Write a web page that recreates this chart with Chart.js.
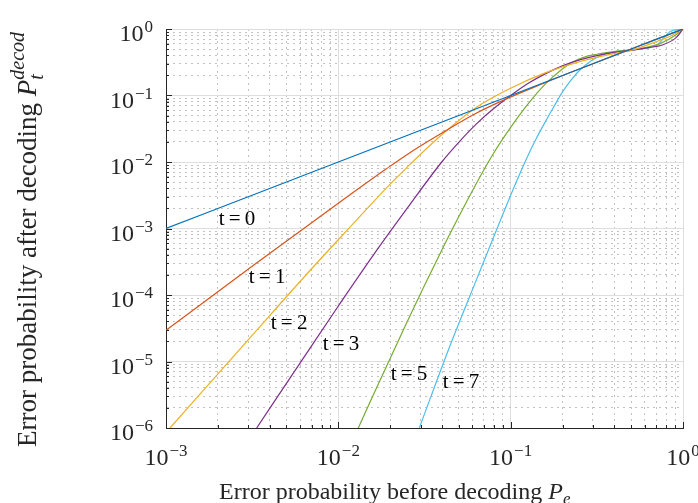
<!DOCTYPE html>
<html>
<head>
<meta charset="utf-8">
<script src="https://cdn.jsdelivr.net/npm/chart.js@4.4.1/dist/chart.umd.min.js"></script>
<style>
  html, body { margin: 0; padding: 0; background: #fff; }
  #wrap { width: 698px; height: 503px; position: relative; }
</style>
</head>
<body>
<div id="wrap"><canvas id="decodChart"></canvas></div>
<script>
// error probability before decoding (Pe) and after decoding (P)
const pe0 = [1e-3, 1e-2, 0.1, 0.5, 1];
const p0  = [1e-3, 1e-2, 0.1, 0.5, 1];

const pe1 = [1e-3, 3.16e-3, 1e-2, 1.9e-2, 2.5e-2, 3.9e-2, 6.3e-2, 8.7e-2, 0.148, 0.22, 0.5, 0.71, 1];
const p1  = [2.95e-5, 2.7e-4, 2.4e-3, 7.9e-3, 1.29e-2, 2.63e-2, 5.4e-2, 8.1e-2, 0.145, 0.22, 0.5, 0.71, 1];

const pe2 = [1.054e-3, 3.162e-3, 6.486e-3, 1.259e-2, 1.892e-2, 2.512e-2, 3.981e-2, 6.31e-2, 0.1, 0.1585, 0.2512, 0.3981, 0.5012, 0.6699, 0.871, 1];
const p2  = [1e-6, 2.47e-5, 2.0e-4, 1.288e-3, 4.02e-3, 8.39e-3, 2.57e-2, 6.61e-2, 0.1288, 0.2188, 0.3236, 0.4266, 0.4786, 0.6166, 0.8128, 1];

const pe3 = [3.357e-3, 6.31e-3, 1e-2, 1.585e-2, 2.512e-2, 3.981e-2, 5.012e-2, 6.31e-2, 7.943e-2, 0.1, 0.1259, 0.1585, 0.1995, 0.2512, 0.3162, 0.3981, 0.5012, 0.631, 0.7586, 0.912, 1];
const p3  = [1e-6, 1.156e-5, 6.84e-5, 3.88e-4, 2.02e-3, 1e-2, 1.995e-2, 3.715e-2, 6.31e-2, 0.1, 0.1514, 0.2113, 0.2786, 0.3428, 0.3981, 0.4446, 0.4786, 0.5248, 0.5754, 0.7413, 1];

const pe5 = [1.306e-2, 1.585e-2, 2.512e-2, 3.981e-2, 5.012e-2, 6.31e-2, 7.943e-2, 0.1, 0.1259, 0.1585, 0.1995, 0.2239, 0.2512, 0.2818, 0.3162, 0.3981, 0.5012, 0.7362, 0.9204, 1];
const p5  = [1e-6, 3.04e-6, 4.01e-5, 4.71e-4, 1.524e-3, 4.71e-3, 1.343e-2, 3.31e-2, 7.41e-2, 0.148, 0.251, 0.309, 0.355, 0.394, 0.417, 0.457, 0.484, 0.603, 0.832, 1];

const pe7 = [2.95e-2, 4.345e-2, 6.31e-2, 8.34e-2, 0.1, 0.1122, 0.1259, 0.1413, 0.1585, 0.1778, 0.1995, 0.2239, 0.2512, 0.2818, 0.3162, 0.3548, 0.3981, 0.5012, 0.703, 0.839, 1];
const p7  = [1e-6, 1.48e-5, 1.66e-4, 1e-3, 3.16e-3, 6.38e-3, 1.245e-2, 2.29e-2, 3.98e-2, 6.76e-2, 0.1122, 0.17, 0.24, 0.309, 0.372, 0.422, 0.452, 0.484, 0.569, 0.912, 1];

const curveNames  = ['t=0', 't=1', 't=2', 't=3', 't=5', 't=7'];
const curvePe     = [pe0, pe1, pe2, pe3, pe5, pe7];
const curveP      = [p0, p1, p2, p3, p5, p7];
const curveColors = ['#0072BD', '#D95319', '#EDB120', '#7E2F8E', '#77AC30', '#4DBEEE'];

// where each "t=.." label sits, in data units
const labelPe = [2.58e-3, 3.86e-3, 5.18e-3, 1.036e-2, 2.57e-2, 5.15e-2];
const labelP  = [1.39e-3, 1.83e-4, 3.79e-5, 1.8e-5, 6.38e-6, 4.83e-6];

const xExps = [-3, -2, -1, 0];
const yExps = [-6, -5, -4, -3, -2, -1, 0];

const SERIF = '"Liberation Serif", "DejaVu Serif", serif';

// 1..9 x 10^k between the two end decades
function logTicks(exps) {
  const out = [];
  for (let k = exps[0]; k < exps[exps.length - 1]; k++) {
    for (let m = 1; m < 10; m++) out.push({ value: m * Math.pow(10, k), major: m === 1 });
  }
  out.push({ value: Math.pow(10, exps[exps.length - 1]), major: true });
  return out;
}

function drawPow(ctx, x, y, exp, align) {
  const base = '10';
  const sup = exp === 0 ? '0' : '\u2212' + Math.abs(exp);
  ctx.font = '24px ' + SERIF;
  const wb = ctx.measureText(base).width;
  ctx.font = '17px ' + SERIF;
  const ws = ctx.measureText(sup).width;
  const w = wb + ws + 1;
  let left = x;
  if (align === 'center') left = x - w / 2;
  if (align === 'right') left = x - w;
  ctx.textAlign = 'left';
  ctx.textBaseline = 'alphabetic';
  ctx.font = '24px ' + SERIF;
  ctx.fillText(base, left, y);
  ctx.font = '17px ' + SERIF;
  ctx.fillText(sup, left + wb + 1, y - 9);
}

function drawParts(ctx, x, y, parts) {
  let cx = x;
  parts.forEach(p => {
    ctx.font = p.font;
    ctx.fillText(p.text, cx, y + (p.dy || 0));
    if (!p.stay) cx += ctx.measureText(p.text).width;
  });
}

const decorations = {
  id: 'decorations',
  afterDraw(chart) {
    const ctx = chart.ctx;
    const xs = chart.scales.x, ys = chart.scales.y;
    const area = chart.chartArea;
    ctx.save();

    // inward tick marks on the left and bottom axes
    ctx.strokeStyle = '#262626';
    ctx.lineWidth = 1;
    ctx.beginPath();
    logTicks(xExps).forEach(t => {
      const px = Math.round(xs.getPixelForValue(t.value)) + 0.5;
      const len = t.major ? 6 : 3;
      ctx.moveTo(px, area.bottom);
      ctx.lineTo(px, area.bottom - len);
    });
    logTicks(yExps).forEach(t => {
      const py = Math.round(ys.getPixelForValue(t.value)) + 0.5;
      const len = t.major ? 6 : 3;
      ctx.moveTo(area.left, py);
      ctx.lineTo(area.left + len, py);
    });
    ctx.stroke();

    // tick labels
    ctx.fillStyle = '#262626';
    xExps.forEach(e => drawPow(ctx, xs.getPixelForValue(Math.pow(10, e)), area.bottom + 37, e, 'center'));
    yExps.forEach(e => drawPow(ctx, area.left - 13, ys.getPixelForValue(Math.pow(10, e)) + 12, e, 'right'));

    // axis titles
    ctx.textAlign = 'left';
    ctx.textBaseline = 'alphabetic';
    drawParts(ctx, 219, 499, [
      { text: 'Error probability before decoding ', font: '24px ' + SERIF },
      { text: 'P', font: 'italic 24px ' + SERIF },
      { text: 'e', font: 'italic 17px ' + SERIF, dy: 5 }
    ]);
    ctx.save();
    ctx.translate(36, 447);
    ctx.rotate(-Math.PI / 2);
    drawParts(ctx, 0, 0, [
      { text: 'Error probability after decoding ', font: '27px ' + SERIF },
      { text: 'P', font: 'italic 27px ' + SERIF },
      { text: 't', font: 'italic 20px ' + SERIF, dy: 7, stay: true },
      { text: 'decod', font: 'italic 20px ' + SERIF, dy: -12 }
    ]);
    ctx.restore();

    // curve labels
    ctx.fillStyle = '#000';
    ctx.font = '21px ' + SERIF;
    ctx.textAlign = 'center';
    ctx.textBaseline = 'middle';
    curveNames.forEach((name, i) => {
      const label = name.replace('=', '\u2009=\u2009');
      ctx.fillText(label, xs.getPixelForValue(labelPe[i]), ys.getPixelForValue(labelP[i]));
    });
    ctx.restore();
  }
};

function axisOptions(min, max, exps) {
  return {
    type: 'logarithmic',
    min: min,
    max: max,
    afterBuildTicks: scale => { scale.ticks = logTicks(exps); },
    ticks: { display: false },
    grid: {
      drawTicks: false,
      lineWidth: 1,
      color: c => (c.tick && c.tick.major) ? '#dedede' : '#c2c2c2'
    },
    border: {
      display: true,
      color: '#262626',
      width: 1,
      dash: c => (c.tick && !c.tick.major) ? [2, 4] : []
    }
  };
}

new Chart(document.getElementById('decodChart'), {
  type: 'line',
  data: {
    datasets: curveNames.map((name, i) => ({
      label: name,
      data: curvePe[i].map((x, j) => ({ x: x, y: curveP[i][j] })),
      borderColor: curveColors[i],
      backgroundColor: curveColors[i],
      borderWidth: 1.2,
      pointRadius: 0,
      fill: false,
      cubicInterpolationMode: 'monotone'
    }))
  },
  options: {
    responsive: true,
    maintainAspectRatio: false,
    animation: false,
    layout: { padding: { left: 166, right: 15, top: 29, bottom: 75 } },
    plugins: { legend: { display: false }, tooltip: { enabled: false } },
    scales: {
      x: axisOptions(1e-3, 1, xExps),
      y: axisOptions(1e-6, 1, yExps)
    }
  },
  plugins: [decorations]
});
</script>
</body>
</html>
